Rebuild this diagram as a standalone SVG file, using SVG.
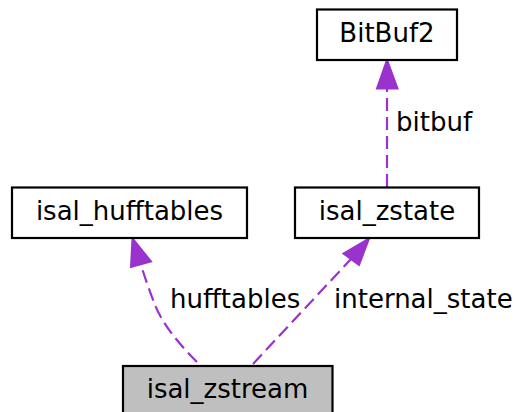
<svg xmlns="http://www.w3.org/2000/svg" width="516" height="412" viewBox="0 0 516 412">
<style>
.box{fill:#ffffff;stroke:#000000;stroke-width:2.2}
.cur{fill:#bfbfbf;stroke:#000000;stroke-width:2.2}
text{font-family:"DejaVu Sans",sans-serif;font-size:26px;fill:#000000}
.edge{fill:none;stroke:#9a32cd;stroke-width:2.2;stroke-dasharray:13,6}
.head{fill:#9a32cd;stroke:#9a32cd;stroke-width:2}
</style>
<rect width="516" height="412" fill="#ffffff"/>
<g id="connectors">
<path class="edge" d="M387,187 L387,89"/>
<polygon class="head" points="387,60 377,88.5 397.5,88.5"/>
<path class="edge" d="M197,362 C180,345 163,325 155,305 C150,292 145,278 141,265"/>
<polygon class="head" points="132.5,238.5 131,267 151,261.5"/>
<path class="edge" d="M253,364 L351,259"/>
<polygon class="head" points="369,238.5 343.5,253.5 359,265"/>
<text x="396" y="131">bitbuf</text>
<text x="170" y="308">hufftables</text>
<text x="334" y="308">internal_state</text>
</g>
<g id="node_BitBuf2">
<rect class="box" x="317" y="9.5" width="140" height="50.5"/>
<text x="387" y="41.5" text-anchor="middle">BitBuf2</text>
</g>
<g id="node_isal_hufftables">
<rect class="box" x="12" y="187.5" width="235" height="50.5"/>
<text x="129.5" y="219.5" text-anchor="middle">isal_hufftables</text>
</g>
<g id="node_isal_zstate">
<rect class="box" x="295" y="187.5" width="184" height="50.5"/>
<text x="387" y="219.5" text-anchor="middle">isal_zstate</text>
</g>
<g id="node_isal_zstream">
<rect class="cur" x="123" y="366" width="209.5" height="52"/>
<text x="227.5" y="398" text-anchor="middle">isal_zstream</text>
</g>
</svg>
